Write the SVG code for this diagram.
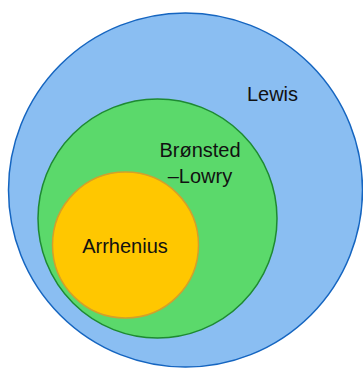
<svg xmlns="http://www.w3.org/2000/svg" width="363" height="368" viewBox="0 0 363 368">
<style>
text{font-family:"Liberation Sans",Arial,sans-serif;font-size:20px;fill:#111;text-anchor:middle}
</style>
<rect width="363" height="368" fill="#fff"/>
<g id="lewis">
<circle cx="185.5" cy="190" r="177" fill="#8ABEF2" stroke="#1565C0" stroke-width="1.5"/>
<text x="272.5" y="101">Lewis</text>
</g>
<g id="bronsted">
<circle cx="157.5" cy="218.5" r="119.5" fill="#5BD96B" stroke="#1E8A32" stroke-width="1.5"/>
<text x="200" y="157">Brønsted</text>
<text x="200" y="183">–Lowry</text>
</g>
<g id="arrhenius">
<circle cx="125.5" cy="245" r="73" fill="#FFC700" stroke="#D4A02A" stroke-width="1.5"/>
<text x="125" y="253">Arrhenius</text>
</g>
<g id="connectors"/>
</svg>
